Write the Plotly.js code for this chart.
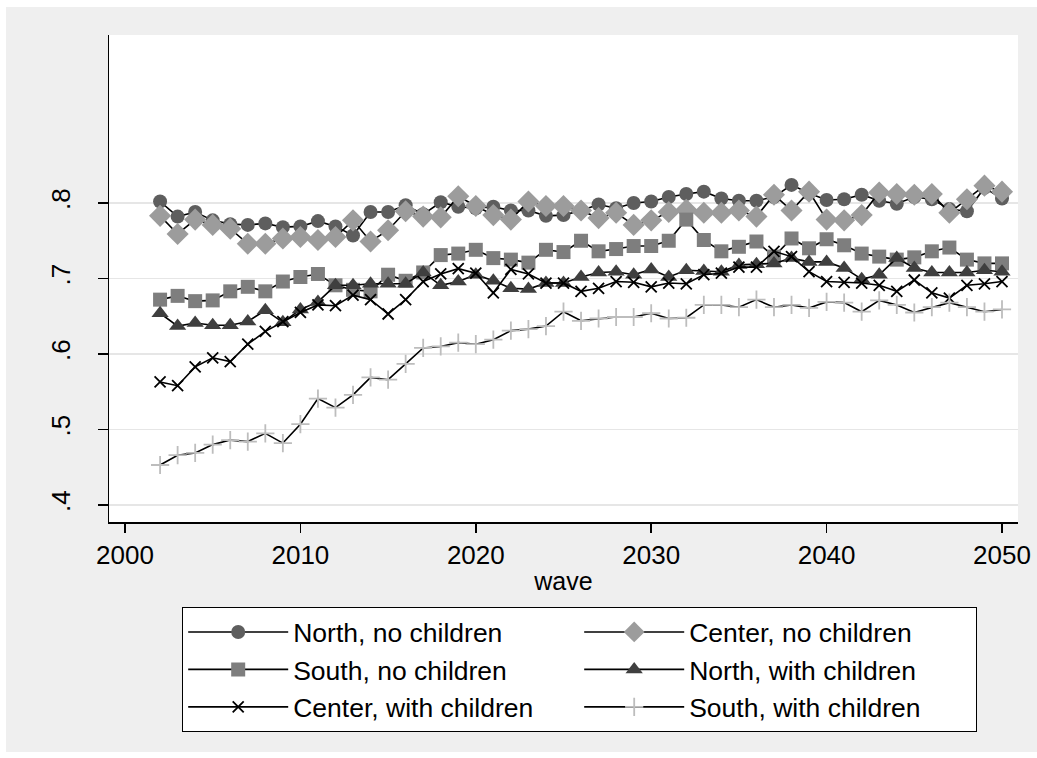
<!DOCTYPE html>
<html>
<head>
<meta charset="utf-8">
<script src="https://cdn.plot.ly/plotly-3.0.1.min.js"></script>
<style>
html,body{margin:0;padding:0;background:#ffffff;}
#chart{position:absolute;left:6px;top:7px;width:1031px;height:745px;}
</style>
</head>
<body>
<div id="chart"></div>
<script>
const years = [2002,2003,2004,2005,2006,2007,2008,2009,2010,2011,2012,2013,2014,2015,2016,2017,2018,2019,2020,2021,2022,2023,2024,2025,2026,2027,2028,2029,2030,2031,2032,2033,2034,2035,2036,2037,2038,2039,2040,2041,2042,2043,2044,2045,2046,2047,2048,2049,2050];

const northNoChildren = [.802,.782,.788,.777,.772,.771,.773,.768,.769,.776,.769,.757,.788,.788,.797,.785,.801,.795,.793,.795,.790,.790,.783,.784,.790,.798,.793,.800,.802,.808,.812,.815,.806,.803,.803,.808,.824,.813,.804,.805,.811,.803,.799,.808,.805,.792,.789,.820,.806];
const centerNoChildren = [.783,.759,.778,.771,.766,.746,.746,.753,.755,.751,.755,.777,.749,.764,.789,.782,.781,.809,.796,.784,.778,.802,.796,.796,.790,.780,.787,.771,.777,.788,.791,.787,.787,.790,.782,.811,.790,.815,.778,.777,.784,.814,.812,.811,.812,.787,.805,.823,.815];
const southNoChildren = [.672,.677,.670,.671,.683,.689,.683,.696,.702,.706,.691,.685,.683,.705,.697,.708,.731,.733,.738,.727,.725,.721,.738,.735,.750,.736,.739,.743,.743,.750,.778,.751,.736,.742,.749,.729,.753,.740,.752,.744,.733,.729,.725,.728,.736,.741,.725,.720,.720];
const northWithChildren = [.654,.637,.641,.638,.638,.643,.658,.642,.659,.669,.691,.691,.693,.693,.693,.708,.691,.696,.705,.697,.687,.686,.694,.694,.702,.708,.709,.705,.712,.702,.711,.710,.709,.718,.719,.720,.727,.722,.722,.714,.699,.705,.727,.714,.708,.708,.708,.711,.709];
const centerWithChildren = [.563,.558,.583,.595,.590,.613,.630,.643,.655,.665,.664,.678,.672,.653,.672,.696,.706,.713,.707,.681,.712,.706,.694,.694,.683,.687,.696,.695,.689,.694,.693,.705,.707,.715,.715,.736,.729,.709,.696,.695,.694,.691,.683,.698,.681,.674,.691,.693,.696];
const southWithChildren = [.453,.466,.469,.480,.486,.484,.495,.482,.507,.541,.529,.546,.569,.566,.587,.608,.610,.615,.613,.619,.631,.633,.637,.656,.644,.647,.649,.649,.654,.647,.648,.665,.665,.662,.672,.662,.665,.661,.669,.668,.656,.671,.665,.655,.662,.668,.662,.656,.659];

const seriesNames = ["North, no children","Center, no children","South, no children","North, with children","Center, with children","South, with children"];
const tickVals = [.4,.5,.6,.7,.8];
const tickText = [".4",".5",".6",".7",".8"];
const xTicks = [2000,2010,2020,2030,2040,2050];

const seriesData = [northNoChildren, centerNoChildren, southNoChildren, northWithChildren, centerWithChildren, southWithChildren];
const markerStyles = [
  {symbol:'circle', size:14, color:'#5e5e5e', line:{width:0}},
  {symbol:'diamond', size:17, color:'#9c9c9c', line:{width:0}},
  {symbol:'square', size:14, color:'#7e7e7e', line:{width:0}},
  {symbol:'triangle-up', size:15, color:'#3f3f3f', line:{width:0}},
  {symbol:'x-thin', size:11, color:'#000000', line:{width:1.8, color:'#000000'}},
  {symbol:'cross-thin', size:13, color:'#bdbdbd', line:{width:1.8, color:'#bdbdbd'}}
];

const traces = seriesData.map((d,i)=>({
  type:'scatter', mode:'lines+markers', name:seriesNames[i],
  x:years, y:d,
  line:{color:'#000000', width:1.6},
  marker:markerStyles[i]
}));

const font = {family:'"Liberation Sans", Arial, sans-serif', color:'#000000', size:26};

const layout = {
  width:1031, height:745,
  paper_bgcolor:'#efefef', plot_bgcolor:'#ffffff',
  font:font,
  margin:{l:103, r:19, t:28, b:230},
  showlegend:true,
  xaxis:{
    range:[1999.088, 2050.912], tickvals:xTicks, ticktext:xTicks.map(String),
    showgrid:false, zeroline:false, showline:true, linecolor:'#000000', linewidth:1.5,
    ticks:'outside', ticklen:9, tickwidth:1.5, tickcolor:'#000000',
    tickfont:{size:26}, title:{text:'wave', font:{size:25}, standoff:4}
  },
  yaxis:{
    range:[0.3775, 1.0225], tickvals:tickVals, ticktext:tickText,
    showgrid:true, gridcolor:'#e6e6e6', gridwidth:1.5, zeroline:false,
    showline:true, linecolor:'#000000', linewidth:1.5,
    ticks:'outside', ticklen:10, tickwidth:1.5, tickcolor:'#000000',
    tickangle:-90, tickfont:{size:26}, ticklabelstandoff:17
  },
  legend:{
    orientation:'h', xref:'container', yref:'container',
    x:0.1707, xanchor:'left', y:0.1946, yanchor:'top',
    bgcolor:'#ffffff', bordercolor:'#000000', borderwidth:1.2,
    font:{size:26.5}, itemwidth:100, entrywidthmode:'pixels', entrywidth:281,
    traceorder:'normal'
  }
};

Plotly.newPlot('chart', traces, layout, {displayModeBar:false, staticPlot:true});
</script>
</body>
</html>
